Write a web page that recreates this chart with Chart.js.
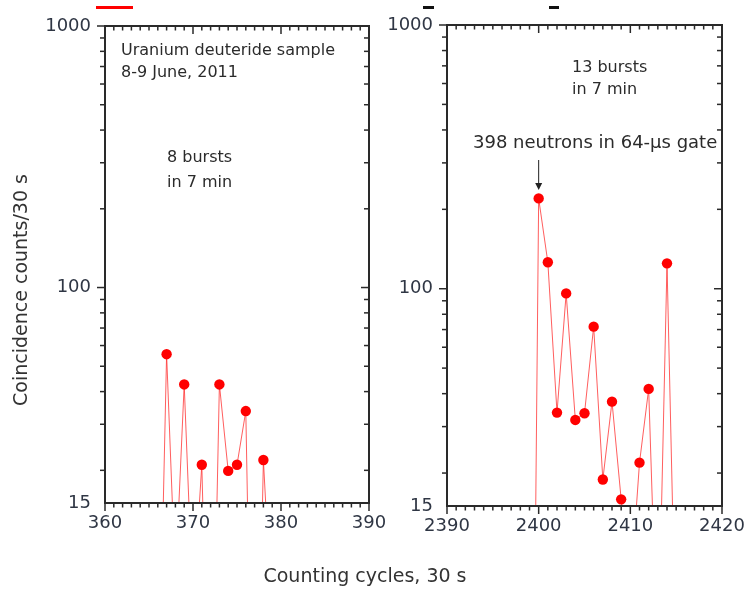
<!DOCTYPE html>
<html><head><meta charset="utf-8">
<script src="https://cdn.jsdelivr.net/npm/chart.js@4/dist/chart.umd.min.js"></script>
<style>
html,body{margin:0;padding:0;background:#fff;}
#wrap{position:relative;width:748px;height:592px;overflow:hidden;}
#wrap canvas{position:absolute;left:0;top:0;}
</style></head><body>
<div id="wrap"><canvas id="c1" width="748" height="592"></canvas><canvas id="c2" width="780" height="592"></canvas></div>
<script>
// ---- data ----
const leftCycles  = [366, 367, 368, 369, 370, 371, 372, 373, 374, 375, 376, 377, 378, 379];
const leftCounts  = [1.7, 55.6, 7.5, 42.6, 6, 21, 1, 42.6, 19.9, 21, 33.7, 0.5, 21.9, 5.1];
const rightCycles = [2399, 2400, 2401, 2402, 2403, 2404, 2405, 2406, 2407, 2408, 2409, 2410, 2411, 2412, 2413, 2414, 2415];
const rightCounts = [0.05, 220, 126, 33.9, 96, 31.8, 33.7, 71.8, 18.9, 37.3, 15.9, 7, 21.9, 41.7, 3.5, 124.8, 3.7];
const leftXRange  = [360, 390];
const rightXRange = [2390, 2420];
const yTicks      = [15, 100, 1000];
const yMinorTicks = [20, 30, 40, 50, 60, 70, 80, 90, 200, 300, 400, 500, 600, 700, 800, 900];
const xTitle = 'Counting cycles, 30 s';
const yTitle = 'Coincidence counts/30 s';

const FONT = "'DejaVu Sans', sans-serif";
const TICKCOLOR = '#2f3644';

const framePlugin = {
  id: 'frame',
  afterDraw(chart, args, opts) {
    const {ctx, chartArea: a} = chart;
    const x = chart.scales.x, y = chart.scales.y;
    ctx.save();
    ctx.strokeStyle = '#2a2a2a';
    ctx.lineWidth = 1.5;
    const seg = (x1, y1, x2, y2) => { ctx.beginPath(); ctx.moveTo(x1, y1); ctx.lineTo(x2, y2); ctx.stroke(); };
    for (let v = x.min; v <= x.max; v++) {
      const px = x.getPixelForValue(v);
      const major = v % 10 === 0;
      seg(px, a.bottom, px, a.bottom + (major ? 8 : 4.5));
      seg(px, a.top, px, a.top + (major ? 8 : 4.5));
    }
    const yAll = yMinorTicks.map(v => [v, false]).concat([[100, true], [1000, true]]);
    yAll.forEach(([v, major]) => {
      const py = y.getPixelForValue(v);
      const len = major ? 8 : 5;
      seg(a.left, py, a.left - len, py);
      seg(a.right, py, a.right - len, py);
    });
    ctx.lineWidth = 2;
    ctx.strokeRect(a.left, a.top, a.right - a.left, a.bottom - a.top);
    // annotations
    ctx.fillStyle = '#2b2b2b';
    ctx.textBaseline = 'middle';
    ctx.textAlign = 'left';
    (opts.texts || []).forEach(t => { ctx.font = (t[3] || 16) + 'px ' + FONT; ctx.fillText(t[0], t[1], t[2]); });
    if (opts.arrow) {
      const px = x.getPixelForValue(opts.arrow.x);
      ctx.strokeStyle = '#222'; ctx.lineWidth = 1;
      seg(px, opts.arrow.y1, px, opts.arrow.y2 - 4);
      ctx.fillStyle = '#222';
      ctx.beginPath();
      ctx.moveTo(px - 3.5, opts.arrow.y2 - 7);
      ctx.lineTo(px + 3.5, opts.arrow.y2 - 7);
      ctx.lineTo(px, opts.arrow.y2);
      ctx.closePath(); ctx.fill();
    }
    if (opts.titles) {
      ctx.fillStyle = '#333';
      ctx.font = '19px ' + FONT;
      ctx.textAlign = 'center';
      ctx.fillText(xTitle, 365, 577);
      ctx.save();
      ctx.translate(22, 290);
      ctx.rotate(-Math.PI / 2);
      ctx.fillText(yTitle, 0, 0);
      ctx.restore();
      // cropped legend remnants at the very top
      ctx.fillStyle = '#ff0000';
      ctx.fillRect(96, 6, 37, 3);
      ctx.fillStyle = '#111';
      ctx.fillRect(423, 6, 11, 3);
      ctx.fillRect(549, 6, 10, 3);
    }
    ctx.restore();
  }
};

function makeChart(id, cycles, counts, xr, yWidth, pad, frameOpts) {
  return new Chart(document.getElementById(id), {
    type: 'line',
    data: {
      datasets: [{
        data: cycles.map((c, i) => ({x: c, y: counts[i]})),
        borderColor: 'rgba(255,40,40,0.75)',
        borderWidth: 1,
        pointBackgroundColor: '#ff0000',
        pointBorderWidth: 0,
        pointRadius: ctx => (ctx.raw && ctx.raw.y >= 15 ? 5.2 : 0),
        tension: 0,
        clip: 0
      }]
    },
    options: {
      responsive: false,
      animation: false,
      events: [],
      layout: {padding: pad},
      plugins: {legend: {display: false}, tooltip: {enabled: false}, frame: frameOpts},
      scales: {
        x: {
          type: 'linear', min: xr[0], max: xr[1],
          grid: {display: false, drawTicks: false},
          border: {display: false},
          ticks: {stepSize: 10, padding: 10, color: TICKCOLOR, font: {family: FONT, size: 18}, maxRotation: 0, callback: v => String(v)},
          afterFit: s => { s.height = 40; }
        },
        y: {
          type: 'logarithmic', min: 15, max: 1000,
          grid: {display: false, drawTicks: false},
          border: {display: false},
          afterBuildTicks: s => { s.ticks = yTicks.map(v => ({value: v})); },
          ticks: {padding: 14, color: TICKCOLOR, font: {family: FONT, size: 18}, callback: v => String(v)},
          afterFit: s => { s.width = yWidth; }
        }
      }
    },
    plugins: [framePlugin]
  });
}

makeChart('c1', leftCycles, leftCounts, leftXRange, 105,
  {left: 0, right: 379, top: 26, bottom: 49},
  {titles: true, texts: [
    ['Uranium deuteride sample', 121, 51],
    ['8-9 June, 2011', 121, 73],
    ['8 bursts', 167, 158],
    ['in 7 min', 167, 183]
  ]});

makeChart('c2', rightCycles, rightCounts, rightXRange, 60,
  {left: 387, right: 58, top: 25, bottom: 46},
  {texts: [
    ['13 bursts', 572, 68],
    ['in 7 min', 572, 90],
    ['398 neutrons in 64-\u03bcs gate', 473, 143, 18]
  ], arrow: {x: 2400, y1: 160, y2: 190}});
</script>
</body></html>
